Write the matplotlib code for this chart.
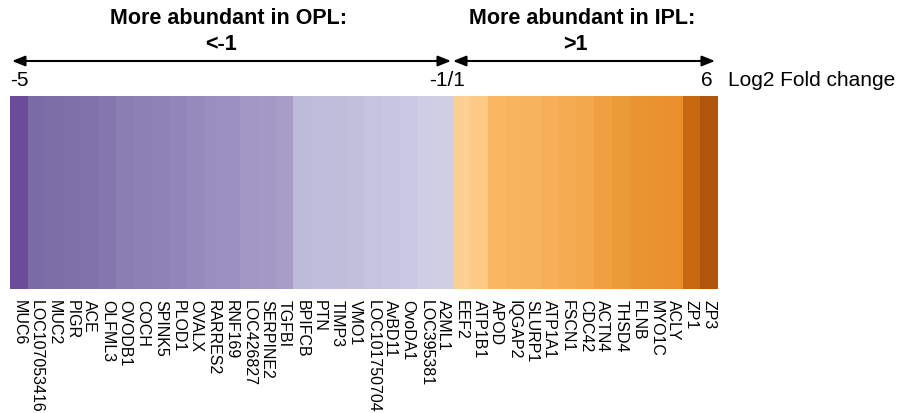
import numpy as np
import matplotlib
matplotlib.use("Agg")
import matplotlib.pyplot as plt
from matplotlib.colors import LinearSegmentedColormap, Normalize

plt.rcParams['font.family'] = ['Liberation Sans', 'DejaVu Sans']

# gene names, left to right
genes = ['MUC6', 'LOC107053416', 'MUC2', 'PIGR', 'ACE', 'OLFML3', 'OVODB1',
         'COCH', 'SPINK5', 'PLOD1', 'OVALX', 'RARRES2', 'RNF169', 'LOC426827',
         'SERPINE2', 'TGFBI', 'BPIFCB', 'PTN', 'TIMP3', 'VMO1', 'LOC101750704',
         'AvBD11', 'OvoDA1', 'LOC395381', 'A2ML1',
         'EEF2', 'ATP1B1', 'APOD', 'IQGAP2', 'SLURP1', 'ATP1A1', 'FSCN1',
         'CDC42', 'ACTN4', 'THSD4', 'FLNB', 'MYO1C', 'ACLY', 'ZP1', 'ZP3']

# estimated log2 fold change (IPL vs OPL)
log2fc = [-5.0, -4.4, -4.3, -4.2, -4.1, -4.0, -3.7, -3.6, -3.5, -3.4,
          -3.2, -3.0, -2.9, -2.6, -2.5, -2.3, -1.9, -1.85, -1.8, -1.7,
          -1.6, -1.5, -1.4, -1.2, -1.1,
          1.1, 1.2, 1.8, 1.9, 2.0, 2.2, 2.4, 2.6, 3.0, 3.3,
          3.7, 3.8, 3.9, 5.0, 6.0]

vmin, vmax = -5, 6
anchors = [(-5.0, '#6b4c9a'), (-4.5, '#7a69a5'), (-3.0, '#9990c0'),
           (-2.2, '#a89fca'), (-2.0, '#bcb8d9'), (-1.0, '#d2d2e6'),
           (1.0, '#fdd299'), (1.5, '#fbbd6c'), (3.0, '#f0a040'),
           (4.0, '#e88f2c'), (5.0, '#c86810'), (6.0, '#b0560a')]
cmap = LinearSegmentedColormap.from_list(
    'fc', [((v - vmin) / (vmax - vmin), c) for v, c in anchors])

W, H = 916, 414
fig = plt.figure(figsize=(W / 100, H / 100), dpi=100)

# colour bar of genes
ax = fig.add_axes([10 / W, 1 - 290 / H, 708 / W, 193 / H])
n = len(genes)
ax.pcolormesh(np.arange(n + 1), [0, 1], np.array(log2fc)[None, :],
              cmap=cmap, norm=Normalize(vmin, vmax))
ax.set_xlim(0, n)
ax.set_ylim(0, 1)
ax.set_yticks([])
ax.set_xticks(np.arange(n) + 0.5)
ax.set_xticklabels(genes, rotation=270, fontsize=11.5, va='top', ha='center')
ax.tick_params(axis='x', length=0, pad=7)
for s in ax.spines.values():
    s.set_visible(False)


def fx(px):
    return px / W


def fy(py):
    return 1 - py / H


# headers
fig.text(fx(229), fy(18), 'More abundant in OPL:', ha='center', va='center',
         fontsize=15.5, fontweight='bold')
fig.text(fx(221), fy(45), '<-1', ha='center', va='center',
         fontsize=15.5, fontweight='bold')
fig.text(fx(582), fy(18), 'More abundant in IPL:', ha='center', va='center',
         fontsize=15.5, fontweight='bold')
fig.text(fx(575), fy(45), '>1', ha='center', va='center',
         fontsize=15.5, fontweight='bold')

# arrows
arrow_kw = dict(arrowstyle='<|-|>,head_length=0.7,head_width=0.28',
                color='black', lw=1.5, shrinkA=0, shrinkB=0)
for x0, x1 in [(12, 451), (453, 715)]:
    fig.add_artist(matplotlib.patches.FancyArrowPatch(
        (fx(x0), fy(62)), (fx(x1), fy(62)), transform=fig.transFigure,
        mutation_scale=11, **arrow_kw))

# scale labels
fig.text(fx(19), fy(80), '-5', ha='center', va='center', fontsize=15)
fig.text(fx(447), fy(80), '-1/1', ha='center', va='center', fontsize=15)
fig.text(fx(707), fy(80), '6', ha='center', va='center', fontsize=15)
fig.text(fx(728), fy(80), 'Log2 Fold change', ha='left', va='center', fontsize=15)

fig.savefig('out.png', dpi=100)
